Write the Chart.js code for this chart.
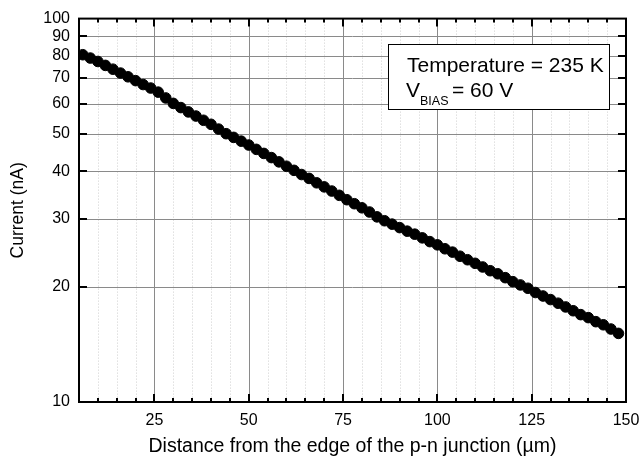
<!DOCTYPE html>
<html>
<head>
<meta charset="utf-8">
<script src="https://cdn.jsdelivr.net/npm/chart.js@4.4.1/dist/chart.umd.min.js"></script>
<style>
  html, body { margin: 0; padding: 0; background: #fff; }
  #wrap { width: 639px; height: 464px; position: relative; }
</style>
</head>
<body>
<div id="wrap"><canvas id="c" width="639" height="464"></canvas></div>
<script>
// ---- data ----
const distance = [6, 8, 10, 12, 14, 16, 18, 20, 22, 24, 26, 28, 30, 32, 34, 36, 38, 40, 42, 44,
  46, 48, 50, 52, 54, 56, 58, 60, 62, 64, 66, 68, 70, 72, 74, 76, 78, 80, 82, 84,
  86, 88, 90, 92, 94, 96, 98, 100, 102, 104, 106, 108, 110, 112, 114, 116, 118, 120, 122, 124,
  126, 128, 130, 132, 134, 136, 138, 140, 142, 144, 146, 148];
const current = [80.5, 78.9, 77.3, 75.5, 73.8, 72.1, 70.5, 68.9, 67.3, 65.9, 64.3, 62.1, 60.1, 58.6, 57.1, 55.7, 54.3, 53.0, 51.5, 50.1,
  49.0, 47.9, 46.8, 45.6, 44.5, 43.4, 42.3, 41.2, 40.2, 39.2, 38.3, 37.3, 36.4, 35.5, 34.6, 33.7, 32.9, 32.1, 31.3, 30.4,
  29.7, 29.1, 28.5, 27.9, 27.4, 26.8, 26.2, 25.7, 25.1, 24.6, 24.0, 23.5, 23.0, 22.5, 22.0, 21.6, 21.1, 20.6, 20.2, 19.8,
  19.3, 18.9, 18.5, 18.1, 17.7, 17.3, 16.9, 16.6, 16.2, 15.9, 15.5, 15.1];
const xTickLabels = [25, 50, 75, 100, 125, 150];
const yTickLabels = [10, 20, 30, 40, 50, 60, 70, 80, 90, 100];
const xRange = [5, 150];
const yRange = [10, 100];
const xMinorStep = 5;
const annotationLine1 = 'Temperature = 235 K';
const annotationV = 'V';
const annotationSub = 'BIAS';
const annotationLine2 = '= 60 V';

const FONT = '"Liberation Sans", Arial, sans-serif';
Chart.defaults.font.family = FONT;
Chart.defaults.color = '#000';

const framePlugin = {
  id: 'frame',
  beforeDatasetsDraw(chart) {
    const { ctx, chartArea: a, scales: { x, y } } = chart;
    ctx.save();
    ctx.lineWidth = 1;
    ctx.strokeStyle = '#cfcfcf';
    ctx.setLineDash([1, 2]);
    for (let v = Math.ceil(x.min / xMinorStep) * xMinorStep; v < x.max; v += xMinorStep) {
      if (xTickLabels.includes(v) || v <= x.min) continue;
      const px = Math.round(x.getPixelForValue(v)) + 0.5;
      ctx.beginPath(); ctx.moveTo(px, a.top); ctx.lineTo(px, a.bottom); ctx.stroke();
    }
    ctx.setLineDash([]);
    ctx.strokeStyle = '#8a8a8a';
    xTickLabels.forEach(v => {
      if (v <= x.min || v >= x.max) return;
      const px = Math.round(x.getPixelForValue(v)) + 0.5;
      ctx.beginPath(); ctx.moveTo(px, a.top); ctx.lineTo(px, a.bottom); ctx.stroke();
    });
    yTickLabels.forEach(v => {
      if (v <= y.min || v >= y.max) return;
      const py = Math.round(y.getPixelForValue(v)) + 0.5;
      ctx.beginPath(); ctx.moveTo(a.left, py); ctx.lineTo(a.right, py); ctx.stroke();
    });
    ctx.restore();
  },
  afterDatasetsDraw(chart) {
    const { ctx, chartArea: a, scales: { x, y } } = chart;
    ctx.save();
    ctx.strokeStyle = '#000';
    ctx.lineWidth = 2;
    ctx.beginPath();
    for (let v = Math.ceil(x.min / xMinorStep) * xMinorStep; v <= x.max; v += xMinorStep) {
      if (v <= x.min || v >= x.max) continue;
      const px = Math.round(x.getPixelForValue(v));
      const len = xTickLabels.includes(v) ? 8 : 4;
      ctx.moveTo(px, a.bottom); ctx.lineTo(px, a.bottom - len);
      ctx.moveTo(px, a.top); ctx.lineTo(px, a.top + len);
    }
    yTickLabels.forEach(v => {
      if (v <= y.min || v >= y.max) return;
      const py = Math.round(y.getPixelForValue(v));
      ctx.moveTo(a.left, py); ctx.lineTo(a.left + 8, py);
      ctx.moveTo(a.right, py); ctx.lineTo(a.right - 8, py);
    });
    ctx.stroke();
    ctx.strokeRect(a.left, a.top, a.right - a.left, a.bottom - a.top);

    // annotation box
    ctx.lineWidth = 1;
    ctx.fillStyle = '#fff';
    ctx.fillRect(388.5, 44.5, 221, 65);
    ctx.strokeRect(388.5, 44.5, 221, 65);
    ctx.fillStyle = '#000';
    ctx.textBaseline = 'alphabetic';
    ctx.textAlign = 'left';
    ctx.font = '21px ' + FONT;
    ctx.fillText(annotationLine1, 407, 72);
    ctx.fillText(annotationV, 406, 97);
    ctx.font = '12.5px ' + FONT;
    ctx.fillText(annotationSub, 420, 105);
    ctx.font = '21px ' + FONT;
    ctx.fillText(annotationLine2, 452, 97);
    ctx.restore();
  }
};

new Chart(document.getElementById('c'), {
  type: 'scatter',
  data: {
    datasets: [{
      data: distance.map((d, i) => ({ x: d, y: current[i] })),
      backgroundColor: '#000',
      borderColor: '#000',
      pointRadius: 5.3,
      pointHoverRadius: 5.3,
      showLine: false
    }]
  },
  options: {
    responsive: false,
    animation: false,
    events: [],
    layout: { padding: { top: 17, right: 0, left: 0, bottom: 0 } },
    plugins: { legend: { display: false }, tooltip: { enabled: false } },
    scales: {
      x: {
        type: 'linear',
        min: xRange[0], max: xRange[1],
        grid: { display: false, drawTicks: false },
        border: { display: false },
        afterBuildTicks: s => { s.ticks = xTickLabels.map(v => ({ value: v })); },
        afterFit: s => { s.height = 62; s.paddingRight = 13; s.paddingLeft = 0; },
        ticks: { font: { size: 16 }, color: '#000', padding: 9, maxRotation: 0, autoSkip: false },
        title: { display: true, text: 'Distance from the edge of the p-n junction (µm)', font: { size: 19.5 }, color: '#000', padding: { top: 0, bottom: 6 } }
      },
      y: {
        type: 'logarithmic',
        min: yRange[0], max: yRange[1],
        grid: { display: false, drawTicks: false },
        border: { display: false },
        afterBuildTicks: s => { s.ticks = yTickLabels.map(v => ({ value: v })); },
        afterFit: s => { s.width = 79; },
        ticks: { font: { size: 16 }, color: '#000', padding: 9, autoSkip: false, callback: v => String(v) },
        title: { display: true, text: 'Current (nA)', font: { size: 17.5 }, color: '#000', padding: { top: 8, bottom: 0 } }
      }
    }
  },
  plugins: [framePlugin]
});
</script>
</body>
</html>
